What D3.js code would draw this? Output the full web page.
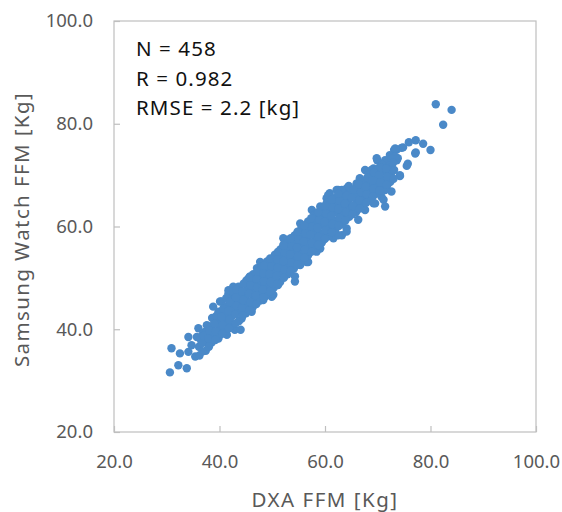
<!DOCTYPE html>
<html>
<head>
  <script src="https://d3js.org/d3.v7.min.js"></script>
  <style>
    body { margin: 0; background: #fff; }
    text { font-family: "Noto Sans", sans-serif; }
    .tick text { fill: #595959; font-size: 18.5px; }
  </style>
</head>
<body>
<script>
  // axis ticks, labels, stats box
  const xTicks = [20, 40, 60, 80, 100];
  const yTicks = [20, 40, 60, 80, 100];
  const statLines = ["N = 458", "R = 0.982", "RMSE = 2.2 [kg]"];
  const xTitle = "DXA FFM [Kg]";
  const yTitle = "Samsung Watch FFM [Kg]";

  // [DXA FFM, Samsung Watch FFM]
  const points = [
    [81.0,83.8],[84.0,82.7],[82.4,79.8],[80.0,74.9],[78.6,76.1],[77.2,76.8],[75.9,76.4],[74.8,75.4],
    [77.2,74.4],[73.6,75.0],[73.8,73.3],[75.7,72.2],[73.1,74.9],[72.3,73.9],[73.6,72.9],[71.7,72.6],
    [69.9,72.9],[70.7,71.6],[69.2,71.3],[67.6,71.0],[72.0,70.4],[74.2,69.8],[72.3,69.4],[70.4,69.7],
    [68.5,69.4],[66.6,69.4],[66.0,68.4],[67.9,68.1],[69.8,68.1],[71.7,67.4],[72.6,66.8],[70.7,65.8],
    [68.5,66.5],[67.0,67.1],[65.1,67.1],[64.1,67.4],[62.5,67.1],[60.9,66.5],[60.3,65.5],[65.4,65.8],
    [67.3,65.2],[69.2,64.5],[71.1,65.2],[63.5,65.2],[61.9,64.5],
    [74.5,75.3],[73.3,75.2],[77.1,74.2],[75.5,71.8],[74.2,70.0],[73.3,73.6],[72.6,72.6],[71.4,72.9],
    [69.8,73.3],[70.4,71.6],[68.8,71.0],[68.2,69.1],[70.1,69.4],[72.0,68.4],[71.4,67.1],[69.5,67.4],
    [66.3,67.4],[64.4,66.1],[62.5,65.8],[68.2,65.8],[66.3,64.9],[69.5,64.5],[71.4,63.9],[65.1,63.5],
    [63.5,63.9],[67.6,63.2],[63.2,62.6],
    [66.0,68.1],[64.1,66.5],[62.2,67.1],[60.6,66.1],[66.0,65.2],[64.4,63.9],[62.5,64.5],[60.6,64.2],
    [59.1,63.9],[57.5,63.2],[65.1,62.9],[66.3,61.3],[62.8,61.9],[61.3,62.6],[59.4,62.2],[58.1,61.6],
    [55.3,60.6],[56.8,60.3],[58.7,60.3],[60.6,60.6],[62.5,60.6],[64.1,59.6],[61.9,59.3],[60.0,59.0],
    [58.1,58.7],[56.5,58.7],[54.3,58.3],[52.7,57.4],[52.1,56.4],[54.3,56.7],[55.9,57.0],[57.8,57.0],
    [59.7,57.4],[61.6,57.7],[63.2,58.3],[58.7,55.7],[56.8,55.4],[54.9,55.1],[53.0,54.8],[51.1,54.5],
    [51.8,52.8],[53.7,53.5],[56.5,53.1],[55.3,52.5],
    [52.1,57.7],[52.4,55.4],[50.5,54.5],[49.3,52.8],[48.9,51.2],[54.3,49.3],[53.4,51.2],[51.8,51.5],
    [50.2,49.9],[47.7,53.1],[47.1,51.9],[45.5,49.9],[43.6,48.3],[41.7,47.0],[40.1,45.4],[39.8,43.4],
    [42.0,44.7],[43.6,46.0],[45.5,47.6],[47.4,48.6],[49.6,48.0],[51.1,48.6],[48.6,46.3],[46.7,45.7],
    [44.8,44.7],[42.9,43.4],[41.4,42.1],[44.2,42.1],[46.1,43.4],[50.2,46.7],
    [30.6,31.6],[32.2,33.0],[33.8,32.4],[30.9,36.3],[32.5,35.3],[34.1,35.6],[35.4,34.7],[34.7,36.9],
    [34.1,38.5],[35.7,38.5],[37.3,39.5],[37.9,36.9],[36.6,37.6],[36.0,40.2],[37.6,40.8],[39.1,41.8],
    [38.8,44.4],[39.8,42.8],[41.0,40.5],[39.1,39.2],[41.4,38.9],[39.8,38.2],[42.9,39.9],[44.0,39.9],
    [40.4,45.4],[41.7,47.6],[42.6,46.7],[45.2,43.7],[45.8,48.3],[47.7,47.0],[48.9,48.0],[49.9,46.3],
    [42.0,41.5],[38.2,38.2],[36.9,39.2],
    [60.3,64.5],[64.1,59.0],[62.5,58.3],[59.1,55.7],[58.4,55.1],[56.8,53.1],[54.3,50.3],[48.0,52.2],
    [45.8,50.3],[49.9,47.0],[48.3,45.7],[42.6,48.3],
    [36.2,34.9],[36.1,36.6],[36.4,38.1],[37.4,35.8],[37.2,37.9],[37.5,39.4],[38.5,37.4],[38.7,39.0],
    [38.4,40.6],[38.6,42.2],[39.9,38.8],[40.1,40.3],[39.7,41.6],[40.2,43.1],[41.3,39.8],[41.1,41.4],
    [41.4,43.0],[41.0,44.5],[41.3,46.1],[42.5,40.9],[42.4,42.6],[42.7,44.1],[42.3,45.6],[42.6,47.3],
    [43.7,41.6],[43.9,43.4],[43.6,45.2],[43.9,46.8],[43.7,48.1],[45.0,43.1],[45.2,44.4],[44.9,46.2],
    [45.3,48.0],[45.1,49.5],[46.3,44.3],[46.5,46.0],[46.2,47.4],[46.6,49.2],[46.4,50.7],[47.7,45.6],
    [47.6,47.3],[47.9,48.7],[47.5,50.3],[47.8,51.6],[48.9,46.9],[49.1,48.5],[48.8,50.1],[49.2,51.6],
    [49.0,53.2],[50.3,48.1],[50.1,49.6],[50.4,51.2],[50.2,52.9],[50.5,54.3],[51.5,49.2],[51.7,50.9],
    [51.4,52.7],[51.8,54.1],[51.6,55.6],[52.9,50.7],[53.0,52.3],[52.8,53.8],[53.1,55.6],[52.9,56.9],
    [54.1,51.8],[54.3,53.6],[54.0,55.1],[54.4,56.9],[54.2,58.1],[55.5,53.4],[55.6,54.7],[55.3,56.6],
    [55.7,58.0],[55.5,59.5],[56.8,54.4],[56.9,56.2],[56.6,57.7],[57.0,59.3],[56.8,61.0],[58.1,55.9],
    [58.2,57.3],[57.9,59.2],[58.3,60.8],[58.0,62.3],[59.4,56.9],[59.2,58.6],[59.5,60.2],[59.3,61.8],
    [59.6,63.2],[60.7,58.1],[60.8,59.8],[60.5,61.6],[60.9,63.0],[60.6,64.7],[62.0,59.6],[61.9,61.1],
    [62.2,62.8],[61.8,64.2],[62.1,65.7],[63.3,60.5],[63.4,62.2],[63.1,63.8],[63.5,65.6],[63.2,67.1],
    [64.6,61.9],[64.7,63.3],[64.4,65.1],[64.8,66.5],[64.5,67.9],[65.9,62.8],[66.0,64.4],[65.7,66.2],
    [66.1,67.8],[67.2,64.1],[67.1,65.7],[67.4,67.3],[67.0,68.7],[68.5,65.1],[68.4,66.9],[68.6,68.3],
    [68.3,70.1],[69.8,66.4],[69.7,67.8],[69.9,69.6],[69.6,70.9],[71.1,67.4],[71.0,69.0],[71.2,70.7],
    [70.9,72.0],[72.4,68.7],[72.5,70.3],[72.3,71.9],[72.6,73.2],
    [36.8,35.7],[36.7,37.3],[37.0,38.8],[38.0,36.6],[37.9,38.2],[38.1,39.8],[39.2,37.9],[39.3,39.6],
    [39.1,41.1],[39.4,42.6],[40.5,39.1],[40.6,40.9],[40.4,42.4],[40.7,44.0],[41.8,40.2],[41.9,41.9],
    [41.7,43.6],[42.0,45.3],[43.1,41.2],[43.0,42.9],[43.2,44.6],[43.1,46.2],[43.2,47.7],[44.4,42.7],
    [44.3,44.2],[44.5,45.7],[44.3,47.4],[44.6,48.9],[45.7,43.7],[45.8,45.3],[45.6,46.9],[45.9,48.6],
    [45.7,50.1],[47.0,44.9],[46.9,46.6],[47.1,48.1],[47.0,49.8],[47.2,51.2],[48.3,46.2],[48.2,47.8],
    [48.4,49.4],[48.3,50.9],[48.5,52.4],[49.6,47.4],[49.7,49.2],[49.5,50.8],[49.8,52.3],[49.6,53.8],
    [50.9,48.8],[50.8,50.4],[51.0,52.0],[50.9,53.6],[51.1,55.1],[52.2,50.0],[52.3,51.6],[52.1,53.3],
    [52.4,54.9],[52.2,56.3],[53.5,51.4],[53.6,53.0],[53.4,54.6],[53.7,56.2],[53.5,57.7],[54.8,52.6],
    [54.9,54.2],[54.7,55.9],[55.0,57.5],[54.8,59.0],[56.1,53.9],[56.2,55.5],[56.0,57.1],[56.3,58.7],
    [56.1,60.2],[57.4,55.1],[57.5,56.8],[57.3,58.4],[57.6,60.0],[57.4,61.6],[58.7,56.4],[58.8,58.0],
    [58.6,59.7],[58.9,61.3],[58.7,62.8],[60.0,57.6],[60.1,59.3],[59.9,60.9],[60.2,62.5],[60.0,64.0],
    [61.3,58.9],[61.4,60.5],[61.2,62.1],[61.5,63.7],[61.3,65.2],[62.6,60.1],[62.7,61.7],[62.5,63.4],
    [62.8,65.0],[62.6,66.4],[63.9,61.2],[64.0,62.8],[63.8,64.5],[64.1,66.0],[65.2,62.4],[65.3,64.0],
    [65.1,65.6],[65.4,67.2],[66.6,63.5],[66.5,65.1],[66.8,66.7],[66.4,68.2],[67.8,64.6],[67.9,66.3],
    [67.7,67.8],[68.0,69.5],[69.1,65.9],[69.2,67.4],[69.0,69.0],[69.3,70.5],[70.4,67.0],[70.5,68.6],
    [70.3,70.1],[70.6,71.5],[71.7,68.1],[71.8,69.7],[71.6,71.3],[73.0,69.3],[73.1,71.0],[72.9,72.4]
  ];

  const width = 562;
  const height = 512;
  const svg = d3.select("body")
    .append("svg")
    .attr("width", width)
    .attr("height", height);

  const x = d3.scaleLinear().domain([20, 100]).range([114, 536]);
  const y = d3.scaleLinear().domain([20, 100]).range([432, 21]);
  const fmt = d3.format(".1f");

  // plot frame
  svg.append("rect")
    .attr("x", x(20))
    .attr("y", y(100))
    .attr("width", x(100) - x(20))
    .attr("height", y(20) - y(100))
    .attr("fill", "none")
    .attr("stroke", "#bfbfbf")
    .attr("stroke-width", 1.2);

  const xAxis = svg.append("g")
    .attr("transform", `translate(0,${y(20)})`)
    .call(d3.axisBottom(x).tickValues(xTicks).tickFormat(fmt)
      .tickSizeInner(-6).tickSizeOuter(0).tickPadding(23));
  xAxis.select(".domain").remove();
  xAxis.selectAll("line").attr("stroke", "#bfbfbf").attr("stroke-width", 1.2);

  const yAxis = svg.append("g")
    .attr("transform", `translate(${x(20)},0)`)
    .call(d3.axisLeft(y).tickValues(yTicks).tickFormat(fmt)
      .tickSizeInner(-6).tickSizeOuter(0).tickPadding(21));
  yAxis.select(".domain").remove();
  yAxis.selectAll("line").attr("stroke", "#bfbfbf").attr("stroke-width", 1.2);
  svg.selectAll(".tick text").attr("font-family", null);

  // points
  svg.append("g")
    .selectAll("circle")
    .data(points)
    .join("circle")
    .attr("cx", d => x(d[0]))
    .attr("cy", d => y(d[1]))
    .attr("r", 4.2)
    .attr("fill", "#4a89c8");

  // stats
  svg.append("g")
    .selectAll("text")
    .data(statLines)
    .join("text")
    .attr("x", 136)
    .attr("y", (d, i) => 56 + i * 29.5)
    .attr("font-size", "20.5px")
    .attr("letter-spacing", "1.1px")
    .attr("fill", "#111")
    .text(d => d);

  // axis titles
  svg.append("text")
    .attr("x", (x(20) + x(100)) / 2)
    .attr("y", 507)
    .attr("text-anchor", "middle")
    .attr("font-size", "20.5px")
    .attr("letter-spacing", "1.5px")
    .attr("fill", "#595959")
    .text(xTitle);

  svg.append("text")
    .attr("transform", `translate(29,${(y(20) + y(100)) / 2 + 3}) rotate(-90)`)
    .attr("text-anchor", "middle")
    .attr("font-size", "20.5px")
    .attr("letter-spacing", "1.4px")
    .attr("fill", "#595959")
    .text(yTitle);
</script>
</body>
</html>
